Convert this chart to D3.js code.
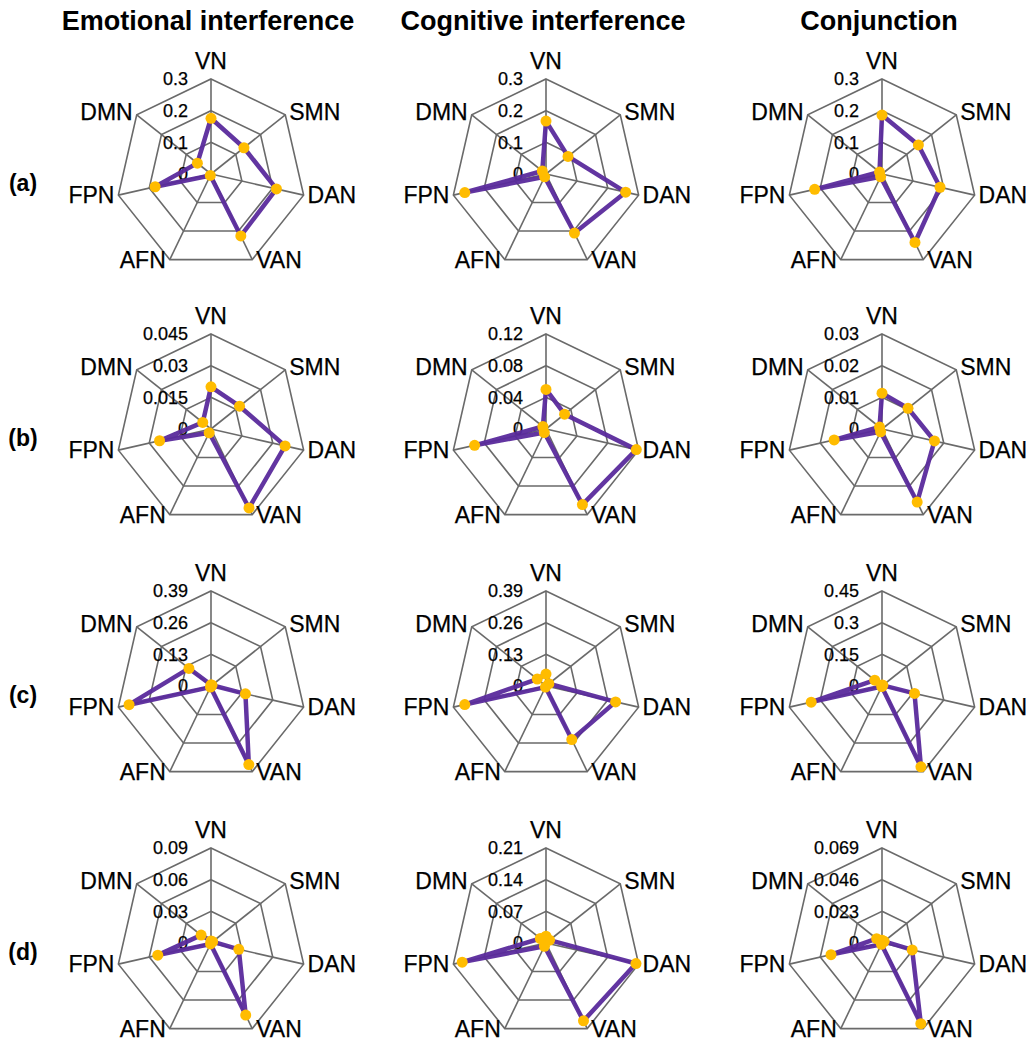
<!DOCTYPE html>
<html><head><meta charset="utf-8">
<script src="https://cdn.jsdelivr.net/npm/d3@7"></script>
<style>
body{margin:0;background:#fff}
svg{display:block}
text{font-family:"Liberation Sans",Arial,Helvetica,sans-serif;fill:#000}
text.net,text.tick{stroke:#000;stroke-width:0.25px}
</style></head><body>
<script>
// ---- data ----
const networks = ["VN","SMN","DAN","VAN","AFN","FPN","DMN"];
const columnTitles = ["Emotional interference","Cognitive interference","Conjunction"];
const rowLabels = ["(a)","(b)","(c)","(d)"];
const scaleMax = [
  [0.3, 0.3, 0.3],
  [0.045, 0.12, 0.03],
  [0.39, 0.39, 0.45],
  [0.09, 0.21, 0.069]
];
const tickLabels = [
  [["0","0.1","0.2","0.3"],["0","0.1","0.2","0.3"],["0","0.1","0.2","0.3"]],
  [["0","0.015","0.03","0.045"],["0","0.04","0.08","0.12"],["0","0.01","0.02","0.03"]],
  [["0","0.13","0.26","0.39"],["0","0.13","0.26","0.39"],["0","0.15","0.3","0.45"]],
  [["0","0.03","0.06","0.09"],["0","0.07","0.14","0.21"],["0","0.023","0.046","0.069"]]
];
// values in order VN, SMN, DAN, VAN, AFN, FPN, DMN
const emotionalValues = [
  [0.176, 0.133, 0.212, 0.217, 0.005, 0.181, 0.055],
  [0.020, 0.0173, 0.036, 0.0415, 0.002, 0.025, 0.005],
  [0.005, 0.005, 0.145, 0.358, 0.005, 0.345, 0.116],
  [0.002, 0.002, 0.027, 0.0758, 0.001, 0.0517, 0.012]
];
const cognitiveValues = [
  [0.167, 0.089, 0.258, 0.207, 0.01, 0.263, 0.015],
  [0.050, 0.030, 0.117, 0.106, 0.005, 0.0925, 0.005],
  [0.049, 0.015, 0.293, 0.244, 0.005, 0.342, 0.046],
  [0.015, 0.01, 0.204, 0.191, 0.008, 0.19, 0.016]
];
const conjunctionValues = [
  [0.186, 0.147, 0.188, 0.240, 0.01, 0.218, 0.01],
  [0.0113, 0.0105, 0.017, 0.0256, 0.001, 0.0155, 0.001],
  [0.005, 0.005, 0.158, 0.425, 0.003, 0.344, 0.044],
  [0.002, 0.002, 0.0225, 0.065, 0.001, 0.038, 0.005]
];
const allValues = [emotionalValues, cognitiveValues, conjunctionValues];

// ---- layout ----
const W = 1036, H = 1050;
const colX = [211, 546, 882];
const rowY = [174, 429, 686, 943];
const R = 95;
const nRings = 3;

const svg = d3.select("body").append("svg").attr("width", W).attr("height", H);

// column titles
svg.selectAll("text.title").data(columnTitles).join("text")
  .attr("class","title")
  .attr("x",(d,i)=>colX[i]-3).attr("y",30)
  .attr("text-anchor","middle")
  .style("font-weight","bold").style("font-size","27px")
  .text(d=>d);

// row labels
svg.selectAll("text.rowlab").data(rowLabels).join("text")
  .attr("class","rowlab")
  .attr("x",23).attr("y",(d,i)=>rowY[i]+17)
  .attr("text-anchor","middle")
  .style("font-weight","bold").style("font-size","23px")
  .text(d=>d);

const angle = d3.scaleLinear().domain([0, networks.length]).range([0, 2*Math.PI]);

function pt(a, r){ return [Math.sin(a)*r, -Math.cos(a)*r]; }

rowY.forEach((cy, ri) => {
  colX.forEach((cx, ci) => {
    const g = svg.append("g").attr("transform", `translate(${cx},${cy})`);
    const maxV = scaleMax[ri][ci];
    const rScale = d3.scaleLinear().domain([0, maxV]).range([0, R]);
    const ringVals = d3.range(1, nRings+1).map(k => maxV*k/nRings);

    // grid rings
    const ringLine = d3.lineRadial().angle((d,i)=>angle(i)).radius(d=>d).curve(d3.curveLinearClosed);
    g.selectAll("path.ring").data(ringVals).join("path")
      .attr("class","ring")
      .attr("d", v => ringLine(networks.map(()=>rScale(v))))
      .attr("fill","none").attr("stroke","#6a6a6a").attr("stroke-width",1.6);

    // spokes
    g.selectAll("line.spoke").data(networks).join("line")
      .attr("x1",0).attr("y1",0)
      .attr("x2",(d,i)=>pt(angle(i),R)[0]).attr("y2",(d,i)=>pt(angle(i),R)[1])
      .attr("stroke","#6a6a6a").attr("stroke-width",1.6);

    // ring labels
    g.selectAll("text.tick").data(tickLabels[ri][ci]).join("text")
      .attr("class","tick")
      .attr("x",-23)
      .attr("y",(d,i)=>-rScale(maxV*i/nRings))
      .attr("dy","0.36em")
      .attr("text-anchor","end")
      .style("font-size","18px")
      .text(d=>d);

    // network labels
    g.selectAll("text.net").data(networks).join("text")
      .attr("class","net")
      .each(function(d,i){
        const a = angle(i);
        const [x,y] = pt(a,R);
        const s = Math.sin(a);
        const sel = d3.select(this);
        if (Math.abs(s) < 1e-6) {
          sel.attr("x",x).attr("y",y-10).attr("text-anchor","middle");
        } else {
          const dy = Math.cos(a) > 0.5 ? -3 : 0;
          sel.attr("x", x + (s>0?4:-4)).attr("y", y+dy).attr("dy","0.36em")
             .attr("text-anchor", s>0 ? "start" : "end");
        }
      })
      .style("font-size","23px")
      .text(d=>d);

    // data
    const vals = allValues[ci][ri];
    const dataLine = d3.lineRadial().angle((d,i)=>angle(i)).radius(d=>rScale(d)).curve(d3.curveLinearClosed);
    g.append("path").attr("d", dataLine(vals))
      .attr("fill","none").attr("stroke","#5a2a9c").attr("stroke-width",4.5)
      .attr("stroke-linejoin","round").attr("stroke-opacity",0.95);
    g.selectAll("circle.pt").data(vals).join("circle")
      .attr("class","pt")
      .attr("cx",(d,i)=>pt(angle(i),rScale(d))[0])
      .attr("cy",(d,i)=>pt(angle(i),rScale(d))[1])
      .attr("r",5.5).attr("fill","#ffbc00");
  });
});
</script>
</body></html>
